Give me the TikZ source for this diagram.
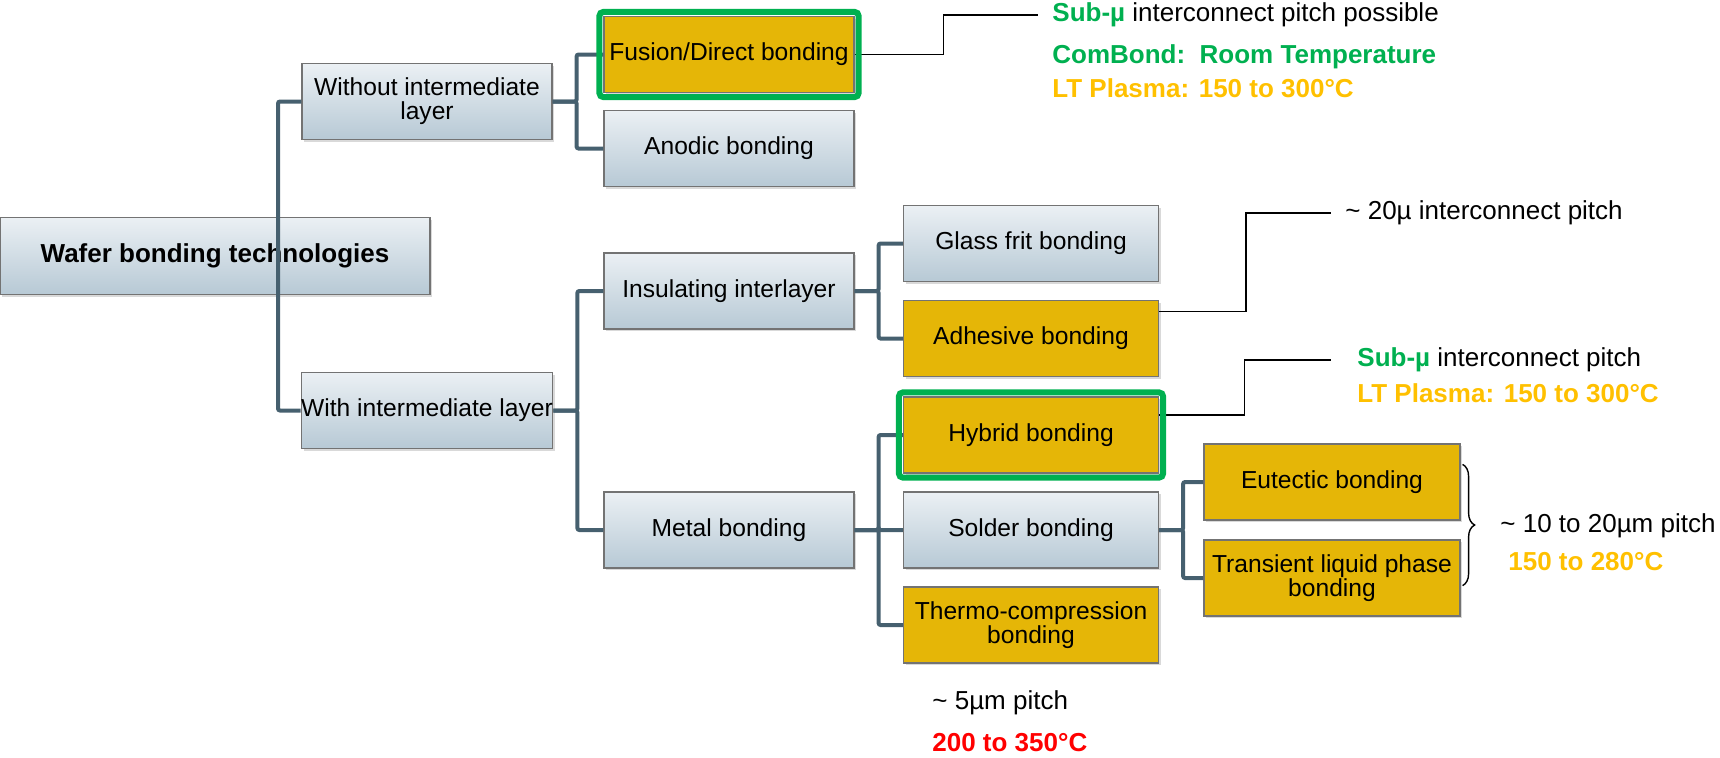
\documentclass[tikz,border=0pt]{standalone}
\usepackage{fontspec}
\setmainfont{Liberation Sans}
\usepackage{xcolor}
\usepackage{tikz}
\usetikzlibrary{positioning,fit,trees,shadows,decorations.pathreplacing}

\definecolor{link}{HTML}{46606F}
\definecolor{boxtop}{HTML}{EBF0F4}
\definecolor{boxbot}{HTML}{B7C9D5}
\definecolor{techgold}{HTML}{E5B607}
\definecolor{hlgreen}{HTML}{00B050}
\definecolor{notegold}{HTML}{FFC000}
\definecolor{hotred}{HTML}{FF0000}

\newcommand{\boxfont}{\fontsize{12.3}{12}\selectfont}
\newcommand{\rootfont}{\fontsize{13}{14}\selectfont\bfseries}
\newcommand{\notefont}{\fontsize{13}{15}\selectfont}

\begin{document}
\begin{tikzpicture}[
  x=0.5pt, y=0.5pt,
  grow'=right,
  edge from parent/.style={draw=link, line width=2pt, rounded corners=1pt},
  elbow/.style={edge from parent path={(\tikzparentnode.east) -- ++(12pt,0) |- (\tikzchildnode.west)}},
  trunk/.style={edge from parent path={([xshift=31.5pt]\tikzparentnode.center) |- (\tikzchildnode.west)}},
  box/.style={draw=black!55, line width=0.6pt, align=center, font=\boxfont, inner xsep=0pt,
    minimum height=38pt, drop shadow={shadow xshift=1.2pt, shadow yshift=-1.2pt, opacity=0.3}},
  cat/.style={box, top color=boxtop, bottom color=boxbot},
  tech/.style={box, fill=techgold},
  hl/.style={draw=hlgreen, line width=3pt, rounded corners=2pt, inner sep=2pt},
  note/.style={anchor=west, inner xsep=7pt, inner ysep=0pt, font=\notefont},
  lead/.style={draw=black, line width=0.7pt},
  brc/.style={draw=black, line width=0.7pt, decorate, decoration={brace, amplitude=6pt}},
  % spacing measured from the reference
  level 1/.style={trunk, level distance=106pt, sibling distance=154.5pt, minimum width=125pt},
  level 2/.style={elbow, level distance=151pt},
  level 3/.style={elbow, level distance=151pt, sibling distance=47.5pt, minimum width=127.5pt},
  level 4/.style={elbow, level distance=150.5pt, sibling distance=48pt, minimum width=128pt}
]
\useasboundingbox (0,0) rectangle (1720,-757);

\node[cat, font=\rootfont, minimum width=215pt, minimum height=38.5pt] (root) at (215,-256) {Wafer bonding technologies}
  child { node[cat] (wol) {Without intermediate\\layer} [sibling distance=47pt]
    child { node[tech] (fus) {Fusion/Direct bonding} }
    child { node[cat] (ano) {Anodic bonding} }
  }
  child { node[cat] (wil) {With intermediate layer} [sibling distance=119.5pt]
    child { node[cat] (ins) {Insulating interlayer}
      child { node[cat] (gla) {Glass frit bonding} }
      child { node[tech] (adh) {Adhesive bonding} }
    }
    child { node[cat] (met) {Metal bonding}
      child { node[tech] (hyb) {Hybrid bonding} }
      child { node[cat] (sol) {Solder bonding}
        child { node[tech] (eut) {Eutectic bonding} }
        child { node[tech] (tlp) {Transient liquid phase\\bonding} }
      }
      child { node[tech] (thc) {Thermo-compression\\bonding} }
    }
  };

% notes
\node[note] (fusN) at (1038,-15) {\textcolor{hlgreen}{\bfseries Sub-µ} interconnect pitch possible};
\node[note, text=hlgreen, font=\notefont\bfseries] (fusCB) at (1038,-57) {ComBond:\ \ Room Temperature};
\node[note, text=notegold, font=\notefont\bfseries] (fusLT) at (1038,-88) {LT Plasma: 150 to 300°C};
\node[note] (adhN) at (1331,-213) {\textasciitilde{} 20µ interconnect pitch};
\node[note, inner xsep=13pt] (hybN) at (1331,-360) {\textcolor{hlgreen}{\bfseries Sub-µ} interconnect pitch};
\node[note, inner xsep=13pt, text=notegold, font=\notefont\bfseries] (hybLT) at (1331,-393) {LT Plasma: 150 to 300°C};
\node[note] (solN) at (1486,-526) {\textasciitilde{} 10 to 20µm pitch};
\node[note, text=notegold, font=\notefont\bfseries] (solT) at (1494,-562) {150 to 280°C};
\node[note] (thcN) at (918,-703) {\textasciitilde{} 5µm pitch};
\node[note, text=hotred, font=\notefont\bfseries] (thcT) at (918,-743) {200 to 350°C};

\draw[lead] (fus.east) -- ++(44.5pt,0) |- (fusN.west);
\draw[lead] ([yshift=13.5pt]adh.east) -- ++(43.5pt,0) |- (adhN.west);
\draw[lead] ([yshift=10pt]hyb.east) -- ++(42.75pt,0) |- (hybN.west);
\draw[brc] ([xshift=1pt,yshift=-10.5pt]eut.north east) -- ([xshift=1pt,yshift=15.5pt]tlp.south east);

% green frames
\node[hl, fit=(fus)] (fusHl) {};
\node[hl, fit=(hyb)] (hybHl) {};
\end{tikzpicture}
\end{document}
